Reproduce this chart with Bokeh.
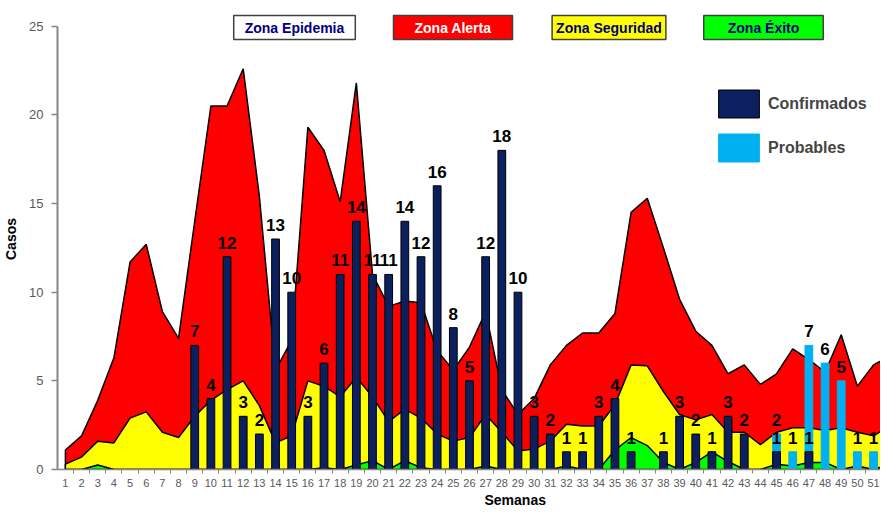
from bokeh.plotting import figure
from bokeh.models import (ColumnDataSource, FixedTicker, Label, Legend, LegendItem,
                          Title, Range1d)
from bokeh.core.properties import value
from bokeh.embed import file_html
from bokeh.resources import INLINE

# ---------------- data ----------------
weeks = list(range(1, 53))
tick_labels = [str(w) for w in weeks]

# upper limit of the alert zone (epidemic threshold)
zona_alerta = [1.1, 1.9, 3.9, 6.3, 11.7, 12.7, 8.9, 7.4, 14.0, 20.5,
               20.5, 22.6, 15.4, 5.6, 7.3, 19.3, 18.0, 15.1, 21.8, 11.0,
               9.2, 9.5, 9.4, 6.7, 5.6, 6.9, 8.9, 4.5, 3.1, 4.0,
               5.9, 7.0, 7.7, 7.7, 8.8, 14.5, 15.3, 12.5, 9.6, 7.8,
               7.0, 5.4, 5.9, 4.8, 5.4, 6.8, 6.2, 5.5, 7.6, 4.7,
               5.9, 6.4]
# upper limit of the security zone
zona_seguridad = [0.3, 0.7, 1.6, 1.5, 2.9, 3.25, 2.1, 1.8, 3.0, 3.9,
                  4.5, 5.0, 3.6, 1.5, 1.9, 5.0, 4.7, 4.1, 5.2, 4.1,
                  2.7, 3.4, 2.9, 2.0, 1.6, 1.8, 3.1, 2.1, 1.05, 1.15,
                  1.6, 2.55, 2.45, 2.45, 3.65, 5.9, 5.85, 4.4, 3.1, 2.8,
                  3.1, 2.1, 2.1, 1.4, 2.1, 2.35, 2.35, 2.2, 2.35, 2.1,
                  1.9, 2.45]
# upper limit of the success zone
zona_exito = [0, 0, 0.25, 0, 0, 0, 0, 0, 0, 0,
              0, 0, 0, 0, 0, 0, 0.1, 0, 0.25, 0.5,
              0, 0.5, 0.1, 0, 0, 0, 0.2, 0, 0, 0,
              0, 0.2, 0, 0, 1.1, 1.8, 1.35, 0.4, 0, 0.4,
              1.0, 0.45, 0, 0, 0.3, 0.2, 0.4, 0.4, 0, 0.2,
              0, 0.3]
confirmados = [0, 0, 0, 0, 0, 0, 0, 0, 7, 4,
               12, 3, 2, 13, 10, 3, 6, 11, 14, 11,
               11, 14, 12, 16, 8, 5, 12, 18, 10, 3,
               2, 1, 1, 3, 4, 1, 0, 1, 3, 2,
               1, 3, 2, 0, 1, 0, 1, 0, 0, 0,
               0, 0]
probables = [0, 0, 0, 0, 0, 0, 0, 0, 0, 0,
             0, 0, 0, 0, 0, 0, 0, 0, 0, 0,
             0, 0, 0, 0, 0, 0, 0, 0, 0, 0,
             0, 0, 0, 0, 0, 0, 0, 0, 0, 0,
             0, 0, 0, 0, 2, 1, 7, 6, 5, 1,
             1, 0]

FONT = "Liberation Sans"
AXIS_GRAY = "#868686"

# ---------------- figure ----------------
p = figure(width=880, height=507, output_backend="svg", toolbar_location=None,
           x_range=Range1d(0.51, 51.43), y_range=Range1d(0, 26.0),
           min_border_left=49, min_border_right=0, min_border_top=8,
           min_border_bottom=10)
p.outline_line_color = None
p.grid.visible = False


def area(vals):
    xs = weeks + weeks[::-1]
    ys = list(vals) + [0] * len(vals)
    return xs, ys


for vals, col in [(zona_alerta, "#ff0000"), (zona_seguridad, "#ffff00"),
                  (zona_exito, "#00ff00")]:
    xs, ys = area(vals)
    p.patch(xs, ys, fill_color=col, line_color="black", line_width=1.5)

src_p = ColumnDataSource(dict(
    x=[w for w, v in zip(weeks, probables) if v > 0],
    top=[v for v in probables if v > 0]))
src_c = ColumnDataSource(dict(
    x=[w for w, v in zip(weeks, confirmados) if v > 0],
    top=[v for v in confirmados if v > 0]))

rp = p.vbar(x="x", top="top", width=0.48, source=src_p, fill_color="#00b0f0",
            line_color="#00b0f0")
rc = p.vbar(x="x", top="top", width=0.48, source=src_c, fill_color="#0c1f5e",
            line_color="black", line_width=1)

for src in (src_p, src_c):
    p.text(x="x", y="top", text="top", source=src, text_font=value(FONT),
           text_font_style="bold", text_font_size="17px", text_align="center",
           text_baseline="bottom", y_offset=-8, text_color="black")

legend = Legend(items=[LegendItem(label="Confirmados", renderers=[rc]),
                       LegendItem(label="Probables", renderers=[rp])],
                location=(656, 304), glyph_width=51, glyph_height=35,
                label_text_font=FONT, label_text_font_size="16px",
                label_text_font_style="bold", label_standoff=4, spacing=9,
                padding=0, margin=0, border_line_color=None,
                background_fill_alpha=0)
p.add_layout(legend)

# zone labels
zones = [("Zona Epidemia", 237, "white", "#000080", (11, 4)),
         ("Zona Alerta", 395.5, "#ff0000", "white", (21, 4)),
         ("Zona Seguridad", 551.5, "#ffff00", "#000080", (4, 4)),
         ("Zona Éxito", 706, "#00ff00", "#000080", (24, 4))]
for txt, cx, bg, fg, pad in zones:
    p.add_layout(Label(x=cx, y=442, x_units="screen", y_units="screen",
                       text=txt, text_align="center", text_baseline="middle",
                       text_font=FONT, text_font_style="bold",
                       text_font_size="14px", text_color=fg,
                       background_fill_color=bg, border_line_color="#404040",
                       border_line_width=1.5, padding=pad))

# y axis
p.yaxis.ticker = FixedTicker(ticks=[0, 5, 10, 15, 20, 25])
p.yaxis.bounds = (0, 25)
p.yaxis.axis_line_color = AXIS_GRAY
p.yaxis.axis_line_width = 2
p.yaxis.major_tick_line_color = AXIS_GRAY
p.yaxis.major_tick_line_width = 1.5
p.yaxis.major_tick_out = 6
p.yaxis.major_tick_in = 0
p.yaxis.minor_tick_line_color = None
p.yaxis.major_label_text_font = FONT
p.yaxis.major_label_text_font_size = "13px"
p.yaxis.major_label_text_color = "#595959"
p.yaxis.major_label_standoff = 8
p.yaxis.axis_label = "Casos"
p.yaxis.axis_label_text_font = FONT
p.yaxis.axis_label_text_font_size = "14px"
p.yaxis.axis_label_text_font_style = "bold"
p.yaxis.axis_label_text_color = "black"
p.yaxis.axis_label_standoff = 7

# x axis
p.xaxis.ticker = FixedTicker(ticks=weeks, minor_ticks=[w - 0.5 for w in weeks] + [52.5])
p.xaxis.major_label_overrides = {w: lbl for w, lbl in zip(weeks, tick_labels)}
p.xaxis.axis_line_color = AXIS_GRAY
p.xaxis.axis_line_width = 1.5
p.xaxis.major_tick_out = 0
p.xaxis.major_tick_in = 0
p.xaxis.minor_tick_out = 4
p.xaxis.minor_tick_in = 0
p.xaxis.minor_tick_line_color = AXIS_GRAY
p.xaxis.major_label_text_font = FONT
p.xaxis.major_label_text_font_size = "11px"
p.xaxis.major_label_text_color = "#595959"
p.xaxis.major_label_standoff = 5

p.add_layout(Title(text="Semanas", align="left", offset=427, text_font=FONT,
                   text_font_size="14px", text_font_style="bold",
                   text_color="black", standoff=0), "below")

open("out.html", "w").write(file_html(p, INLINE))
